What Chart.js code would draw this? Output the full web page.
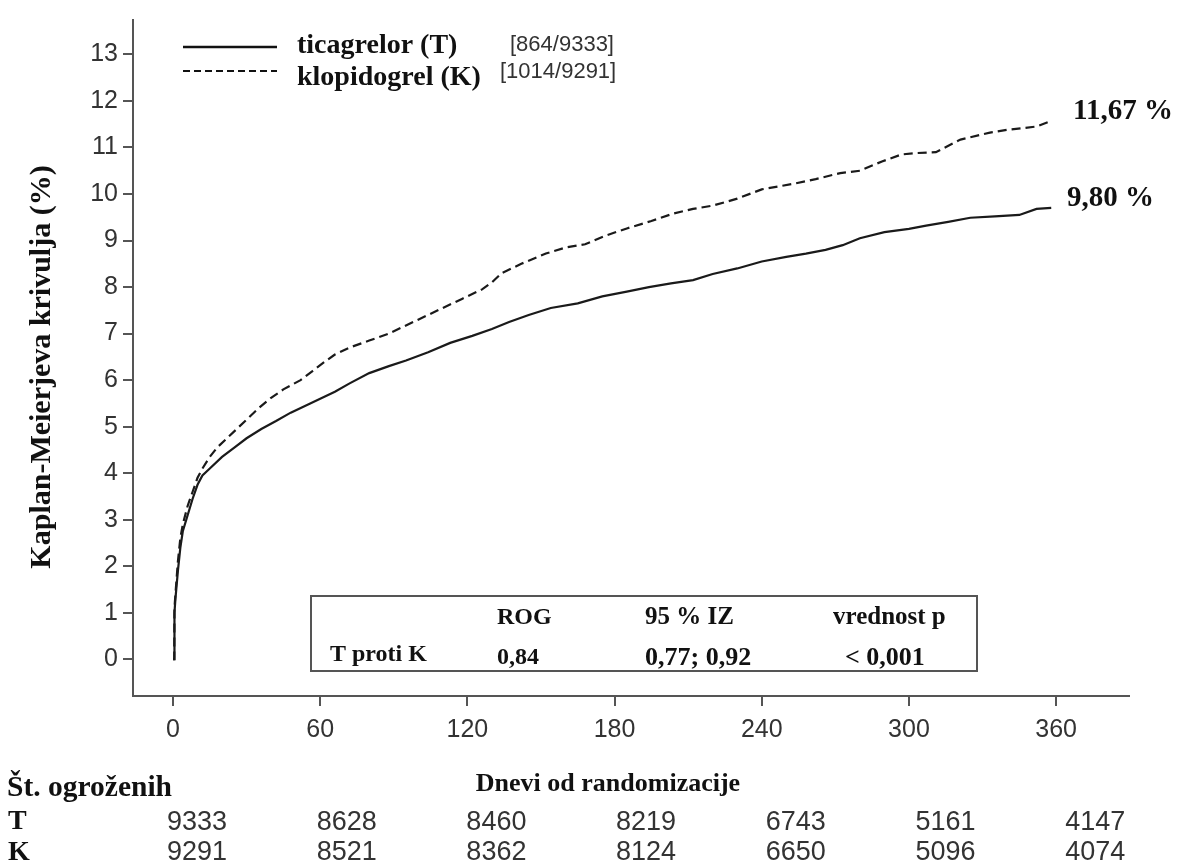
<!DOCTYPE html>
<html>
<head>
<meta charset="utf-8">
<script src="https://cdn.jsdelivr.net/npm/chart.js@4.4.1/dist/chart.umd.min.js"></script>
<style>
html,body{margin:0;padding:0;background:#fff;}
#wrap{width:1180px;height:867px;position:relative;}
</style>
</head>
<body>
<div id="wrap"><canvas id="c"></canvas></div>
<script>
// ---- data ----
const xTicks = [0, 60, 120, 180, 240, 300, 360];
const yTicks = [0,1,2,3,4,5,6,7,8,9,10,11,12,13];

const tDays = [0,0.5,0.6,1,2,3,4,6,8,10,12,15,20,25,30,36,42,48,54,60,66,72,80,88,95,104,113,122,130,137,145,154,165,175,185,194,203,212,220,230,240,250,258,266,273,280,290,300,307,316,325,335,345,352,358];
const tVals = [0,0,1.0,1.3,1.9,2.4,2.75,3.1,3.45,3.75,3.95,4.1,4.35,4.55,4.75,4.95,5.12,5.3,5.45,5.6,5.75,5.93,6.15,6.3,6.42,6.6,6.8,6.95,7.1,7.25,7.4,7.55,7.65,7.8,7.9,8.0,8.08,8.15,8.28,8.4,8.55,8.65,8.72,8.8,8.9,9.05,9.18,9.25,9.32,9.4,9.49,9.52,9.55,9.68,9.7];

const kDays = [0,0.5,0.6,1,2,3,4,6,8,10,12,15,18,22,26,30,35,40,45,52,57,62,66,72,80,88,96,104,110,118,126,130,134,142,152,160,168,176,185,195,204,212,220,230,240,253,262,272,280,289,297,303,311,321,333,340,347,352,357];
const kVals = [0,0,1.1,1.4,2.1,2.6,2.9,3.3,3.6,3.9,4.1,4.35,4.55,4.75,4.95,5.15,5.4,5.62,5.8,6.0,6.2,6.4,6.55,6.7,6.85,7.0,7.2,7.4,7.55,7.75,7.95,8.1,8.3,8.5,8.72,8.85,8.92,9.1,9.26,9.42,9.58,9.68,9.75,9.9,10.1,10.22,10.32,10.45,10.5,10.7,10.85,10.88,10.9,11.17,11.32,11.38,11.42,11.45,11.55];

const seriesNames = ["ticagrelor (T)", "klopidogrel (K)"];
const seriesCounts = ["[864/9333]", "[1014/9291]"];
const endLabels = ["9,80 %", "11,67 %"];
const atRiskT = [9333, 8628, 8460, 8219, 6743, 5161, 4147];
const atRiskK = [9291, 8521, 8362, 8124, 6650, 5096, 4074];
const statHeader = ["ROG", "95 % IZ", "vrednost p"];
const statRow = ["T proti K", "0,84", "0,77; 0,92", "< 0,001"];

const toPts = (d, v) => d.map((x, i) => ({x: x, y: v[i]}));

const SERIF = "'Liberation Serif', 'Times New Roman', serif";
const SANS = "'Liberation Sans', Arial, sans-serif";
const AX = '#555';

const extras = {
  id: 'extras',
  afterDraw(chart) {
    const ctx = chart.ctx;
    ctx.save();
    ctx.fillStyle = '#111';
    ctx.strokeStyle = '#111';
    // legend
    ctx.lineWidth = 2.5;
    ctx.beginPath(); ctx.moveTo(183, 47); ctx.lineTo(277, 47); ctx.stroke();
    ctx.setLineDash([7, 4]);
    ctx.lineWidth = 2;
    ctx.beginPath(); ctx.moveTo(183, 71); ctx.lineTo(277, 71); ctx.stroke();
    ctx.setLineDash([]);
    ctx.textBaseline = 'middle';
    ctx.textAlign = 'left';
    ctx.font = "bold 28px " + SERIF;
    ctx.fillText(seriesNames[0], 297, 46);
    ctx.fillText(seriesNames[1], 297, 78);
    ctx.fillStyle = '#333';
    ctx.font = "22px " + SANS;
    ctx.fillText(seriesCounts[0], 510, 45);
    ctx.fillText(seriesCounts[1], 500, 72);

    // end labels
    ctx.fillStyle = '#111';
    ctx.font = "bold 29px " + SERIF;
    ctx.fillText(endLabels[1], 1073, 112);
    ctx.fillText(endLabels[0], 1067, 199);

    // stats box
    ctx.strokeStyle = AX;
    ctx.lineWidth = 2;
    ctx.strokeRect(311, 596, 666, 75);
    ctx.fillStyle = '#111';
    ctx.font = "bold 24px " + SERIF;
    ctx.fillText(statHeader[0], 497, 618);
    ctx.font = "bold 25px " + SERIF;
    ctx.fillText(statHeader[1], 645, 618);
    ctx.fillText(statHeader[2], 833, 618);
    ctx.font = "bold 24px " + SERIF;
    ctx.fillText(statRow[0], 330, 655);
    ctx.fillText(statRow[1], 497, 658);
    ctx.font = "bold 26px " + SERIF;
    ctx.fillText(statRow[2], 645, 658);
    ctx.fillText(statRow[3], 845, 658);

    // axis titles
    ctx.font = "bold 26px " + SERIF;
    ctx.textAlign = 'center';
    ctx.fillText("Dnevi od randomizacije", 608, 784);
    ctx.save();
    ctx.translate(42, 367);
    ctx.rotate(-Math.PI / 2);
    ctx.font = "bold 30px " + SERIF;
    ctx.fillText("Kaplan-Meierjeva krivulja (%)", 0, 0);
    ctx.restore();

    // at-risk table
    ctx.textAlign = 'left';
    ctx.font = "bold 29.5px " + SERIF;
    ctx.fillText("Št. ogroženih", 7, 788);
    ctx.font = "bold 28px " + SERIF;
    ctx.fillText("T", 8, 822);
    ctx.fillText("K", 8, 853);
    ctx.font = "27px " + SANS;
    ctx.fillStyle = '#333';
    ctx.textAlign = 'center';
    for (let i = 0; i < atRiskT.length; i++) {
      const x = 197 + i * 149.7;
      ctx.fillText(String(atRiskT[i]), x, 823);
      ctx.fillText(String(atRiskK[i]), x, 853);
    }
    ctx.restore();
  }
};

new Chart(document.getElementById('c'), {
  type: 'line',
  data: {
    datasets: [
      { label: seriesNames[0], data: toPts(tDays, tVals), borderColor: '#1a1a1a', borderWidth: 2.2, pointRadius: 0, tension: 0, fill: false },
      { label: seriesNames[1], data: toPts(kDays, kVals), borderColor: '#1a1a1a', borderWidth: 2.2, borderDash: [9, 5], pointRadius: 0, tension: 0, fill: false }
    ]
  },
  options: {
    responsive: true,
    maintainAspectRatio: false,
    animation: false,
    layout: { padding: { top: 12, right: 51, left: 0, bottom: 0 } },
    plugins: { legend: { display: false }, tooltip: { enabled: false } },
    scales: {
      x: {
        type: 'linear', min: -16.3, max: 389.7,
        afterBuildTicks: s => { s.ticks = xTicks.map(v => ({value: v})); },
        afterFit: s => { s.height = 171; },
        grid: { drawOnChartArea: false, drawTicks: true, tickLength: 10, color: AX, lineWidth: 2 },
        border: { display: true, color: AX, width: 2 },
        ticks: { color: '#333', font: { family: SANS, size: 25 }, padding: 9, maxRotation: 0 }
      },
      y: {
        type: 'linear', min: -0.79, max: 13.74,
        afterBuildTicks: s => { s.ticks = yTicks.map(v => ({value: v})); },
        afterFit: s => { s.width = 133; },
        grid: { drawOnChartArea: false, drawTicks: true, tickLength: 10, color: AX, lineWidth: 2 },
        border: { display: true, color: AX, width: 2 },
        ticks: { color: '#333', font: { family: SANS, size: 25 }, padding: 5 }
      }
    }
  },
  plugins: [extras]
});
</script>
</body>
</html>
